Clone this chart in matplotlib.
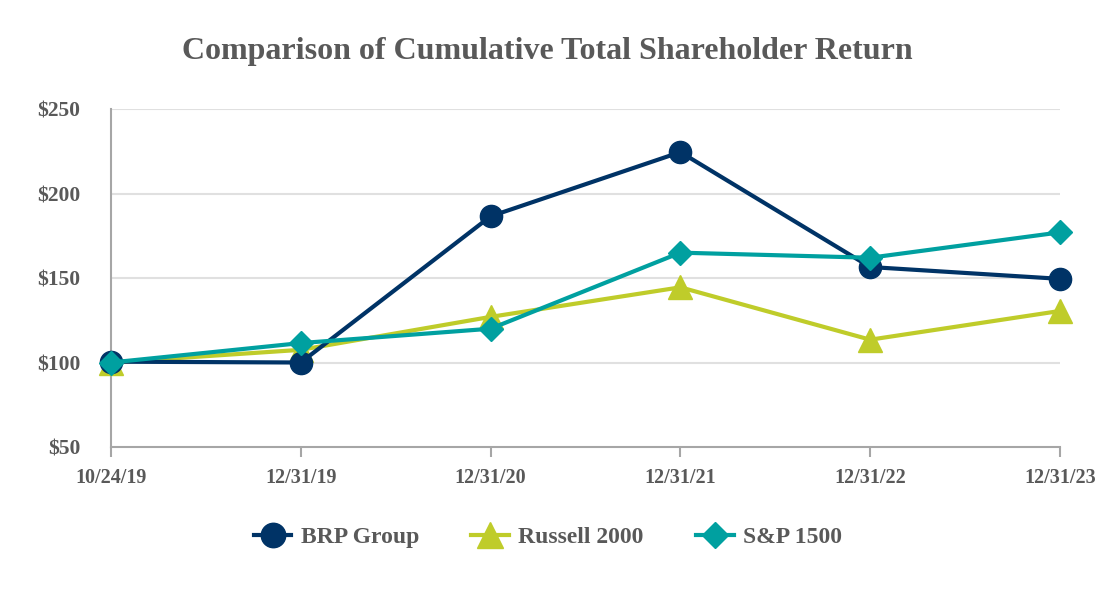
import matplotlib
matplotlib.use('Agg')
import matplotlib.pyplot as plt

plt.rcParams['font.family'] = ['Liberation Serif', 'DejaVu Serif']

dates = ['10/24/19', '12/31/19', '12/31/20', '12/31/21', '12/31/22', '12/31/23']
brp = [100.5, 100.0, 186.5, 224.5, 156.5, 149.5]
russell = [100.0, 107.5, 127.0, 144.5, 113.5, 130.5]
sp1500 = [100.0, 111.5, 120.0, 165.0, 162.0, 177.0]
yticks = [50, 100, 150, 200, 250]

text_gray = '#595959'
axis_gray = '#A6A6A6'

fig = plt.figure(figsize=(11, 6), dpi=100)
ax = fig.add_axes([0.1009, 0.255, 0.8627, 0.5633])

x = range(len(dates))
ax.plot(x, russell, color='#BFCC2A', lw=3, marker='^', ms=17, label='Russell 2000',
        clip_on=False, zorder=3)
ax.plot(x, brp, color='#003366', lw=3, marker='o', ms=16, label='BRP Group',
        clip_on=False, zorder=4)
ax.plot(x, sp1500, color='#00A0A0', lw=3, marker='D', ms=12, label='S&P 1500',
        clip_on=False, zorder=5)

ax.set_xlim(0, len(dates) - 1)
ax.set_ylim(50, 250)
ax.set_xticks(list(x))
ax.set_xticklabels(dates)
ax.set_yticks(yticks)
ax.set_yticklabels(['$%d' % v for v in yticks])

for v in yticks[1:]:
    ax.axhline(v, color='#E0E0E0', lw=1.5, zorder=1)

for s in ['top', 'right']:
    ax.spines[s].set_visible(False)
for s in ['left', 'bottom']:
    ax.spines[s].set_color(axis_gray)
    ax.spines[s].set_linewidth(1.5)

ax.tick_params(axis='x', length=7, width=1.5, color=axis_gray, pad=8,
               labelsize=14.5, labelcolor=text_gray)
ax.tick_params(axis='y', length=0, pad=22, labelsize=15.5, labelcolor=text_gray)
for lab in ax.get_xticklabels() + ax.get_yticklabels():
    lab.set_fontweight('bold')

fig.text(0.498, 0.915, 'Comparison of Cumulative Total Shareholder Return',
         ha='center', va='center', fontsize=23, fontweight='bold', color=text_gray)

h, l = ax.get_legend_handles_labels()
order = [1, 0, 2]
leg = fig.legend([h[i] for i in order], [l[i] for i in order], loc='center',
                 bbox_to_anchor=(0.498, 0.105), ncol=3, frameon=False,
                 prop={'size': 17, 'weight': 'bold'}, columnspacing=2.2,
                 handlelength=1.6, handletextpad=0.4, markerscale=1.1)
for t in leg.get_texts():
    t.set_color(text_gray)

fig.savefig('out.png', dpi=100)
